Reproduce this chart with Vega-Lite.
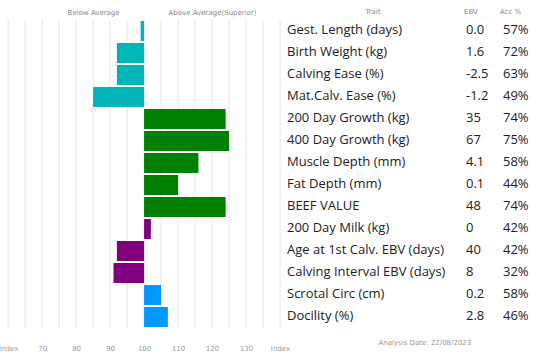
{
  "$schema": "https://vega.github.io/schema/vega-lite/v6.json",
  "padding": {"left": -2, "top": 8, "right": 0, "bottom": 0},
  "background": "white",
  "config": {"view": {"stroke": null}, "font": "Open Sans"},
  "title": {"text": "Analysis Date: 22/08/2023", "orient": "bottom", "anchor": "start", "dx": 380, "offset": -12, "fontSize": 7, "fontWeight": "normal", "color": "#999999", "font": "DejaVu Sans"},
  "datasets": {
    "ebv": [
      {"trait": "Gest. Length (days)", "ebv": "0.0", "acc": 57, "index": 99, "group": "Calving"},
      {"trait": "Birth Weight (kg)", "ebv": "1.6", "acc": 72, "index": 92, "group": "Calving"},
      {"trait": "Calving Ease (%)", "ebv": "-2.5", "acc": 63, "index": 92, "group": "Calving"},
      {"trait": "Mat.Calv. Ease (%)", "ebv": "-1.2", "acc": 49, "index": 85, "group": "Calving"},
      {"trait": "200 Day Growth (kg)", "ebv": "35", "acc": 74, "index": 124, "group": "Growth"},
      {"trait": "400 Day Growth (kg)", "ebv": "67", "acc": 75, "index": 125, "group": "Growth"},
      {"trait": "Muscle Depth (mm)", "ebv": "4.1", "acc": 58, "index": 116, "group": "Growth"},
      {"trait": "Fat Depth (mm)", "ebv": "0.1", "acc": 44, "index": 110, "group": "Growth"},
      {"trait": "BEEF VALUE", "ebv": "48", "acc": 74, "index": 124, "group": "Growth"},
      {"trait": "200 Day Milk (kg)", "ebv": "0", "acc": 42, "index": 102, "group": "Maternal"},
      {"trait": "Age at 1st Calv. EBV (days)", "ebv": "40", "acc": 42, "index": 92, "group": "Maternal"},
      {"trait": "Calving Interval EBV (days)", "ebv": "8", "acc": 32, "index": 91, "group": "Maternal"},
      {"trait": "Scrotal Circ (cm)", "ebv": "0.2", "acc": 58, "index": 105, "group": "Other"},
      {"trait": "Docility (%)", "ebv": "2.8", "acc": 46, "index": 107, "group": "Other"}
    ],
    "grid": [
      {"g": 60}, {"g": 65}, {"g": 70}, {"g": 75}, {"g": 80}, {"g": 85}, {"g": 90}, {"g": 95}, {"g": 100},
      {"g": 105}, {"g": 110}, {"g": 115}, {"g": 120}, {"g": 125}, {"g": 130}, {"g": 135}, {"g": 140}
    ]
  },
  "data": {"name": "ebv"},
  "spacing": 7,
  "bounds": "flush",
  "hconcat": [
    {
      "width": 280,
      "height": 308,
      "layer": [
        {
          "data": {"name": "grid"},
          "mark": {"type": "rule", "color": "#e6e6e6", "strokeWidth": 1},
          "encoding": {
            "x": {"field": "g", "type": "quantitative",
              "axis": {"orient": "top", "values": [85, 120], "labelExpr": "datum.value == 85 ? 'Below Average' : 'Above Average(Superior)'", "grid": false, "ticks": false, "domain": false, "labelColor": "#888888", "labelFontSize": 7, "labelPadding": 5, "title": null, "labelFont": "DejaVu Sans", "labelFlush": false}}
          }
        },
        {
          "mark": {"type": "bar", "stroke": null},
          "encoding": {
            "y": {"field": "trait", "type": "nominal", "sort": null, "axis": null, "scale": {"paddingInner": 0.0909, "paddingOuter": 0.0455}},
            "x": {"field": "index", "type": "quantitative",
              "scale": {"domain": [57.6, 140], "nice": false, "zero": false},
              "axis": {"orient": "bottom", "values": [60, 70, 80, 90, 100, 110, 120, 130, 140], "labelExpr": "datum.value == 60 || datum.value == 140 ? 'Index' : datum.label", "grid": false, "ticks": false, "domain": false, "labelColor": "#999999", "labelFontSize": 7, "labelPadding": 16, "title": null, "labelFont": "DejaVu Sans", "labelFlush": false}},
            "x2": {"datum": 100},
            "color": {"field": "group", "type": "nominal", "legend": null,
              "scale": {"domain": ["Calving", "Growth", "Maternal", "Other"], "range": ["#00B5B8", "#008000", "#800080", "#0099FF"]}}
          }
        }
      ],
      "resolve": {"axis": {"x": "independent"}}
    },
    {
      "width": 172,
      "height": 308,
      "title": {"text": "Trait", "anchor": "middle", "fontSize": 7, "fontWeight": "normal", "color": "#888888", "offset": 5, "font": "DejaVu Sans"},
      "mark": {"type": "text", "align": "left", "fontSize": 13, "dy": -1, "color": "#222222", "font": "Open Sans"},
      "encoding": {
        "y": {"field": "trait", "type": "nominal", "sort": null, "axis": null},
        "x": {"value": 0},
        "text": {"field": "trait"}
      }
    },
    {
      "width": 30,
      "height": 308,
      "title": {"text": "EBV", "anchor": "start", "dx": -2, "fontSize": 7, "fontWeight": "normal", "color": "#888888", "offset": 5, "font": "DejaVu Sans"},
      "mark": {"type": "text", "align": "left", "fontSize": 13, "dy": -1, "color": "#222222", "font": "Open Sans"},
      "encoding": {
        "y": {"field": "trait", "type": "nominal", "sort": null, "axis": null},
        "x": {"value": 0},
        "text": {"field": "ebv"}
      }
    },
    {
      "width": 40,
      "height": 308,
      "title": {"text": "Acc %", "anchor": "start", "dx": -3, "fontSize": 7, "fontWeight": "normal", "color": "#888888", "offset": 5, "font": "DejaVu Sans"},
      "transform": [{"calculate": "datum.acc + '%'", "as": "accLabel"}],
      "mark": {"type": "text", "align": "left", "fontSize": 13, "dy": -1, "color": "#222222", "font": "Open Sans"},
      "encoding": {
        "y": {"field": "trait", "type": "nominal", "sort": null, "axis": null},
        "x": {"value": 0},
        "text": {"field": "accLabel"}
      }
    }
  ]
}
